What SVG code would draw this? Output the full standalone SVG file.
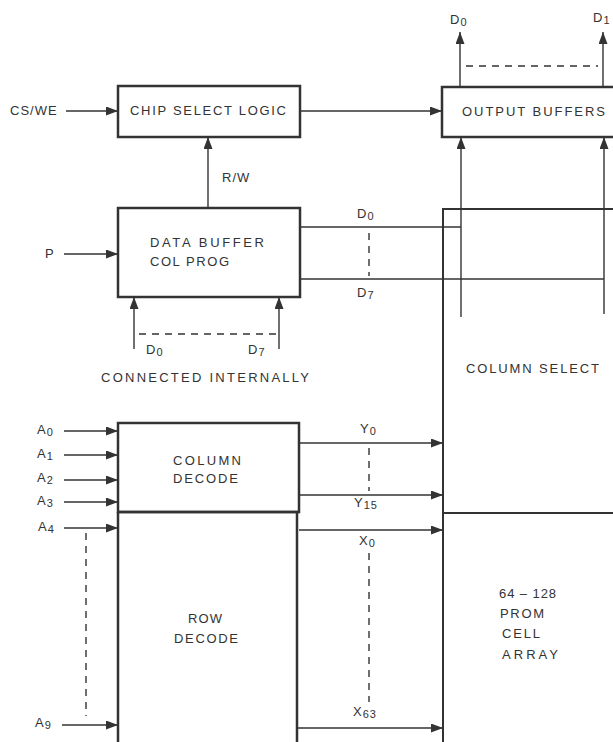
<svg xmlns="http://www.w3.org/2000/svg" width="613" height="742" viewBox="0 0 613 742">
<style>
.box{fill:none;stroke:#333;stroke-width:2.5}
.ln{fill:none;stroke:#333;stroke-width:1.4}
.ar{fill:none;stroke:#333;stroke-width:1.4;marker-end:url(#ah)}
.ds{fill:none;stroke:#333;stroke-width:1.4;stroke-dasharray:7 6}
text{font-family:"Liberation Sans",Arial,sans-serif;font-size:13px;fill:#333;letter-spacing:1px}
.sub{font-size:11px}
</style>
<defs>
<marker id="ah" viewBox="0 0 12 9" refX="12" refY="4.5" markerWidth="12" markerHeight="9" markerUnits="userSpaceOnUse" orient="auto">
<path d="M0,0 L12,4.5 L0,9 Z" fill="#333"/>
</marker>
</defs>
<rect width="613" height="742" fill="#fff"/>
<g id="chip-select">
<rect class="box" x="118" y="86" width="182" height="51"/>
<text x="130" y="115" textLength="157" lengthAdjust="spacing">CHIP SELECT LOGIC</text>
</g>
<g id="output-buffers">
<path class="box" d="M620 87 H442 V137 H620"/>
<text x="462" y="116" textLength="144" lengthAdjust="spacing">OUTPUT BUFFERS</text>
</g>
<g id="data-buffer">
<rect class="box" x="118" y="208" width="182" height="89"/>
<text x="150" y="247" textLength="115" lengthAdjust="spacing">DATA BUFFER</text>
<text x="150" y="266" textLength="80" lengthAdjust="spacing">COL PROG</text>
</g>
<g id="column-decode">
<rect class="box" x="118" y="423" width="181" height="89"/>
<text x="173" y="465" textLength="69" lengthAdjust="spacing">COLUMN</text>
<text x="173" y="483" textLength="66" lengthAdjust="spacing">DECODE</text>
</g>
<g id="row-decode">
<path class="box" d="M118 512 V742 M297 512 V742 M118 512 H299"/>
<text x="188" y="623" textLength="35" lengthAdjust="spacing">ROW</text>
<text x="174" y="643" textLength="65" lengthAdjust="spacing">DECODE</text>
</g>
<g id="column-select">
<path class="box" d="M613 209 H443 V742" style="stroke-width:2"/>
<text x="466" y="373" textLength="134" lengthAdjust="spacing">COLUMN SELECT</text>
</g>
<g id="cell-array">
<path class="ln" d="M443 513 H613" style="stroke-width:2"/>
<text x="499" y="598" textLength="58" lengthAdjust="spacing">64 – 128</text>
<text x="500" y="618" textLength="45" lengthAdjust="spacing">PROM</text>
<text x="502" y="638" textLength="39" lengthAdjust="spacing">CELL</text>
<text x="502" y="659" textLength="57" lengthAdjust="spacing">ARRAY</text>
</g>
<g id="connectors">
<path class="ar" d="M66 111 H118"/>
<path class="ar" d="M300 111 H442"/>
<path class="ar" d="M208 208 V137"/>
<path class="ar" d="M64 254 H118"/>
<path class="ar" d="M134 349 V297"/>
<path class="ar" d="M279 349 V297"/>
<path class="ds" d="M139 334 H279"/>
<path class="ar" d="M460 87 V32"/>
<path class="ar" d="M603 87 V32"/>
<path class="ds" d="M466 66 H598"/>
<path class="ar" d="M461 317 V137"/>
<path class="ar" d="M604 314 V137"/>
<path class="ln" d="M300 227 H461"/>
<path class="ln" d="M300 279 H604"/>
<path class="ds" d="M369 233 V276"/>
<path class="ar" d="M64 431 H118"/>
<path class="ar" d="M64 455 H118"/>
<path class="ar" d="M64 480 H118"/>
<path class="ar" d="M64 502 H118"/>
<path class="ar" d="M64 528 H118"/>
<path class="ar" d="M62 725 H118"/>
<path class="ds" d="M86 533 V716"/>
<path class="ar" d="M299 443 H443"/>
<path class="ar" d="M299 495 H443"/>
<path class="ar" d="M299 530 H443"/>
<path class="ar" d="M297 728 H443"/>
<path class="ds" d="M369 448 V491"/>
<path class="ds" d="M369 553 V702"/>
</g>
<g id="labels">
<text x="10" y="115">CS/WE</text>
<text x="222" y="182">R/W</text>
<text x="45" y="258">P</text>
<text x="146" y="354">D<tspan class="sub" dy="2">0</tspan></text>
<text x="248" y="354">D<tspan class="sub" dy="2">7</tspan></text>
<text x="101" y="382" textLength="209" lengthAdjust="spacing">CONNECTED INTERNALLY</text>
<text x="450" y="24">D<tspan class="sub" dy="2">0</tspan></text>
<text x="593" y="22">D<tspan class="sub" dy="2">1</tspan></text>
<text x="357" y="218">D<tspan class="sub" dy="2">0</tspan></text>
<text x="357" y="297">D<tspan class="sub" dy="2">7</tspan></text>
<text x="37" y="434">A<tspan class="sub" dy="2">0</tspan></text>
<text x="37" y="458">A<tspan class="sub" dy="2">1</tspan></text>
<text x="37" y="482">A<tspan class="sub" dy="2">2</tspan></text>
<text x="37" y="505">A<tspan class="sub" dy="2">3</tspan></text>
<text x="38" y="531">A<tspan class="sub" dy="2">4</tspan></text>
<text x="35" y="727">A<tspan class="sub" dy="2">9</tspan></text>
<text x="360" y="433">Y<tspan class="sub" dy="2">0</tspan></text>
<text x="354" y="507">Y<tspan class="sub" dy="2">15</tspan></text>
<text x="359" y="545">X<tspan class="sub" dy="2">0</tspan></text>
<text x="353" y="716">X<tspan class="sub" dy="2">63</tspan></text>
</g>
</svg>
